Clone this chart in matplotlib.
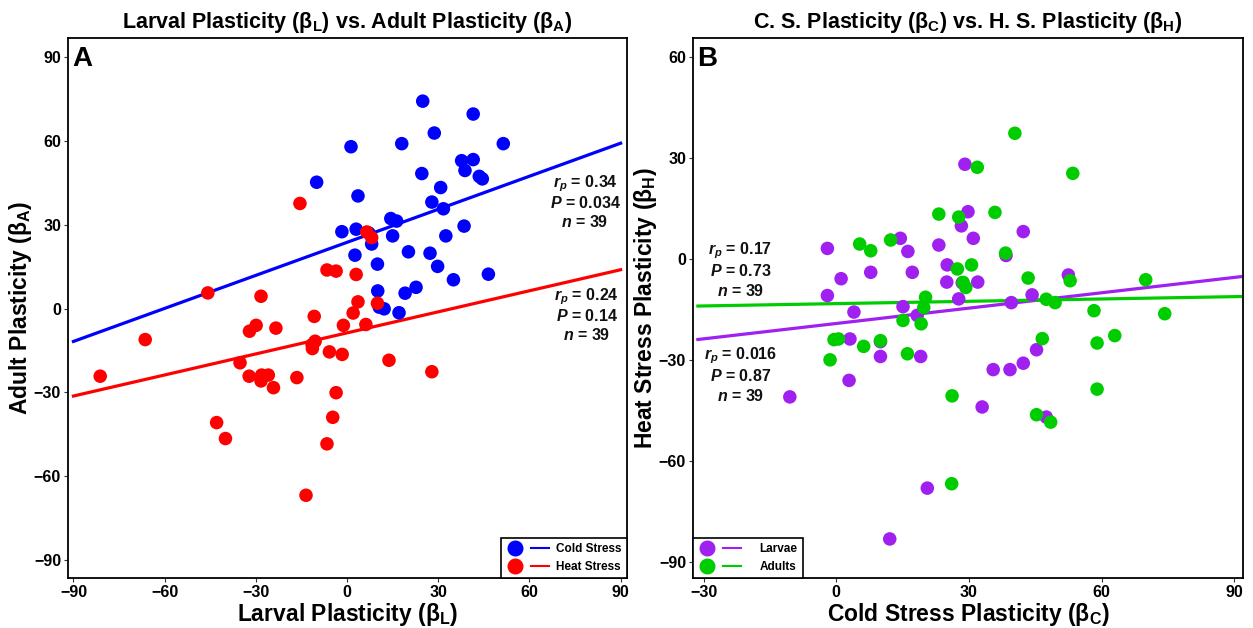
import matplotlib
matplotlib.use("Agg")
import matplotlib.pyplot as plt
from matplotlib.lines import Line2D
from matplotlib.legend_handler import HandlerTuple
import numpy as np

plt.rcParams['font.family'] = ['Liberation Sans', 'DejaVu Sans']
plt.rcParams['mathtext.fontset'] = 'custom'
plt.rcParams['mathtext.rm'] = 'Liberation Sans:bold'
plt.rcParams['mathtext.it'] = 'Liberation Sans:italic:bold'
plt.rcParams['mathtext.bf'] = 'Liberation Sans:bold'

# ---------------- Panel A data ----------------
cold_larval = [1.3, -10.0, 3.6, -1.7, 3.0, 2.6, 24.9, 41.5, 28.7, 18.0, 51.4, 37.7, 41.5,
               38.8, 24.6, 43.5, 44.5, 30.8, 27.9, 31.7, 14.4, 16.3, 38.5, 15.0, 32.5,
               8.1, 20.2, 27.3, 10.0, 29.8, 46.5, 35.0, 10.1, 22.7, 19.1, 12.2, 10.6, 17.1, 7.2]
cold_adult = [57.9, 45.2, 40.3, 27.5, 28.4, 19.1, 74.2, 69.6, 62.8, 59.0, 59.0, 52.9, 53.3,
              49.4, 48.3, 47.3, 46.4, 43.3, 38.1, 35.7, 32.2, 31.3, 29.5, 26.0, 26.0,
              23.1, 20.3, 19.8, 15.9, 15.1, 12.3, 10.3, 6.3, 7.6, 5.5, -0.1, 0.5, -1.5, 27.0]
heat_larval = [-15.5, -45.8, -28.3, -6.6, -3.6, 3.0, -10.8, 2.0, 3.6, -1.2, -32.1, -29.9, -23.4,
               -66.4, -81.2, -35.2, -32.2, -28.1, -25.9, -28.3, -24.2, -16.5, -11.5, -10.5,
               -11.4, -5.8, -1.6, -3.6, -4.7, -42.9, -40.0, -6.6, -13.5, 10.0, 6.2, 13.8, 27.9,
               6.5, 8.1]
heat_adult = [37.6, 5.6, 4.4, 13.8, 13.4, 12.2, -2.8, -1.6, 2.4, -6.0, -8.1, -6.0, -7.0,
              -11.1, -24.2, -19.4, -24.2, -23.8, -23.8, -25.9, -28.3, -24.7, -12.9, -11.7,
              -14.3, -15.5, -16.4, -30.1, -38.9, -40.8, -46.5, -48.4, -66.8, 1.9, -5.7, -18.5,
              -22.6, 27.4, 25.4]
fit_cold = (23.7, 0.394)   # intercept, slope
fit_heat = (-8.7, 0.251)
stats_cold = ("0.34", "0.034", "39")
stats_heat = ("0.24", "0.14", "39")
ticks_A = [-90, -60, -30, 0, 30, 60, 90]

# ---------------- Panel B data ----------------
larvae_cold = [29.1, 29.8, 28.3, 31.0, 14.5, -2.0, 16.2, 23.2, 7.8, 17.2, 1.1, 25.1, 25.0,
               -2.0, 27.7, 15.1, 4.0, 18.3, 3.1, 10.0, 10.0, 19.1, 2.9, -10.5, 42.3, 38.4,
               32.0, 52.5, 39.6, 44.3, 45.3, 42.3, 35.5, 39.3, 33.0, 47.5, 20.6, 12.1, 28.5]
larvae_heat = [28.2, 14.1, 9.9, 6.2, 6.2, 3.2, 2.3, 4.2, -3.9, -3.9, -5.8, -1.7, -6.8,
               -10.8, -11.8, -14.1, -15.7, -16.7, -23.7, -24.5, -28.9, -28.9, -36.0, -40.9,
               8.2, 1.1, -6.8, -4.7, -12.9, -10.6, -26.9, -30.9, -32.8, -32.8, -43.9, -46.9,
               -68.0, -83.1, -7.0]
adults_cold = [23.2, 27.7, 12.3, 5.3, 7.8, 30.6, 27.4, 28.7, 29.3, 20.2, 19.8, 15.1, 19.2,
               -0.5, 0.5, 10.0, 6.2, 16.1, -1.4, 26.2, 40.4, 31.9, 53.5, 35.9, 38.3, 43.4,
               52.9, 70.0, 47.5, 49.5, 58.3, 74.3, 63.0, 46.6, 59.0, 59.0, 45.3, 48.5, 26.1]
adults_heat = [13.4, 12.5, 5.7, 4.5, 2.5, -1.7, -2.9, -6.9, -8.4, -11.3, -14.4, -18.2, -19.2,
               -23.9, -23.7, -24.2, -25.9, -28.1, -29.9, -40.6, 37.4, 27.3, 25.5, 13.9, 1.8,
               -5.6, -6.4, -6.1, -11.9, -12.9, -15.3, -16.2, -22.7, -23.6, -24.9, -38.6,
               -46.2, -48.4, -66.7]
fit_larvae = (-19.1, 0.152)
fit_adults = (-13.2, 0.023)
stats_adults = ("0.17", "0.73", "39")
stats_larvae = ("0.016", "0.87", "39")
xticks_B = [-30, 0, 30, 60, 90]
yticks_B = [-90, -60, -30, 0, 30, 60]

BLUE, RED = '#0000FF', '#FF0000'
PURPLE, GREEN = '#A020F0', '#00CD00'
MS = 95
LW = 2.3

fig = plt.figure(figsize=(12.53, 6.28), dpi=100)
axA = fig.add_axes([68/1253, 1-578/628, 559/1253, 540/628])
axB = fig.add_axes([693/1253, 1-578/628, 550/1253, 540/628])


def style(ax):
    for s in ax.spines.values():
        s.set_color('black')
        s.set_linewidth(1.3)
    ax.tick_params(axis='both', length=3, width=0.8, color='#333333', pad=2,
                   labelsize=11.5, labelcolor='black')
    for lab in ax.get_xticklabels() + ax.get_yticklabels():
        lab.set_fontweight('bold')


def stat_text(ax, x, y, st, dy):
    r, p, n = st
    kw = dict(ha='center', va='center', fontsize=11.5, fontweight='bold', color='#111111')
    ax.text(x, y, r'$r_{p}$' + ' = ' + r, **kw)
    ax.text(x, y - dy, r'$P$' + ' = ' + p, **kw)
    ax.text(x, y - 2*dy, r'$n$' + ' = ' + n, **kw)


# ---------- Panel A ----------
xa = np.array([-90, 90])
axA.plot(xa, fit_cold[0] + fit_cold[1]*xa, color=BLUE, lw=LW, zorder=2)
axA.plot(xa, fit_heat[0] + fit_heat[1]*xa, color=RED, lw=LW, zorder=2)
axA.scatter(cold_larval, cold_adult, s=MS, color=BLUE, edgecolors='none', zorder=3)
axA.scatter(heat_larval, heat_adult, s=MS, color=RED, edgecolors='none', zorder=3)
axA.set_xlim(-91.8, 92.1)
axA.set_ylim(-96.4, 96.8)
axA.set_xticks(ticks_A)
axA.set_yticks(ticks_A)
axA.set_xticklabels([str(t).replace('-', '\u2212') for t in ticks_A])
axA.set_yticklabels([str(t).replace('-', '\u2212') for t in ticks_A])
style(axA)
axA.set_xlabel(r'Larval Plasticity ($\mathrm{β}_{\mathrm{L}}$)', fontsize=16.5, fontweight='bold', labelpad=1)
axA.set_ylabel(r'Adult Plasticity ($\mathrm{β}_{\mathrm{A}}$)', fontsize=16.5, fontweight='bold', labelpad=0)
axA.set_title(r'Larval Plasticity ($\mathrm{β}_{\mathrm{L}}$) vs. Adult Plasticity ($\mathrm{β}_{\mathrm{A}}$)',
              fontsize=15.5, fontweight='bold', pad=7)
axA.text(0.008, 0.985, 'A', transform=axA.transAxes, ha='left', va='top', fontsize=20, fontweight='bold')
stat_text(axA, 78.3, 44.7, stats_cold, 6.8)
stat_text(axA, 78.8, 4.2, stats_heat, 6.9)

hA = [(Line2D([], [], marker='o', ls='none', color=BLUE, ms=10.5), Line2D([], [], color=BLUE, lw=1.5)),
      (Line2D([], [], marker='o', ls='none', color=RED, ms=10.5), Line2D([], [], color=RED, lw=1.5))]
legA = axA.legend(hA, ['Cold Stress', 'Heat Stress'], loc='lower right', borderaxespad=0,
                  handler_map={tuple: HandlerTuple(ndivide=None, pad=0.6)}, handlelength=3.6,
                  fancybox=False, edgecolor='black', framealpha=1, prop={'weight': 'bold', 'size': 8.5},
                  labelspacing=0.45, handletextpad=0.6, borderpad=0.45)
legA.get_frame().set_linewidth(1.2)

# ---------- Panel B ----------
xb = np.array([-31.3, 91.5])
axB.plot(xb, fit_larvae[0] + fit_larvae[1]*xb, color=PURPLE, lw=LW, zorder=2)
axB.plot(xb, fit_adults[0] + fit_adults[1]*xb, color=GREEN, lw=LW, zorder=2)
axB.scatter(larvae_cold, larvae_heat, s=MS, color=PURPLE, edgecolors='none', zorder=3)
axB.scatter(adults_cold, adults_heat, s=MS, color=GREEN, edgecolors='none', zorder=3)
axB.set_xlim(-32.4, 92.0)
axB.set_ylim(-94.7, 65.7)
axB.set_xticks(xticks_B)
axB.set_yticks(yticks_B)
axB.set_xticklabels([str(t).replace('-', '\u2212') for t in xticks_B])
axB.set_yticklabels([str(t).replace('-', '\u2212') for t in yticks_B])
style(axB)
axB.set_xlabel(r'Cold Stress Plasticity ($\mathrm{β}_{\mathrm{C}}$)', fontsize=16.5, fontweight='bold', labelpad=1)
axB.set_ylabel(r'Heat Stress Plasticity ($\mathrm{β}_{\mathrm{H}}$)', fontsize=16.5, fontweight='bold', labelpad=0)
axB.set_title(r'C. S. Plasticity ($\mathrm{β}_{\mathrm{C}}$) vs. H. S. Plasticity ($\mathrm{β}_{\mathrm{H}}$)',
              fontsize=15.5, fontweight='bold', pad=7)
axB.text(0.008, 0.985, 'B', transform=axB.transAxes, ha='left', va='top', fontsize=20, fontweight='bold')
stat_text(axB, -21.7, 2.6, stats_adults, 6.0)
stat_text(axB, -21.7, -28.7, stats_larvae, 5.9)

hB = [(Line2D([], [], marker='o', ls='none', color=PURPLE, ms=10.5), Line2D([], [], color=PURPLE, lw=1.5)),
      (Line2D([], [], marker='o', ls='none', color=GREEN, ms=10.5), Line2D([], [], color=GREEN, lw=1.5))]
legB = axB.legend(hB, ['Larvae', 'Adults'], loc='lower left', borderaxespad=0,
                  handler_map={tuple: HandlerTuple(ndivide=None, pad=0.6)}, handlelength=3.6,
                  fancybox=False, edgecolor='black', framealpha=1, prop={'weight': 'bold', 'size': 8.5},
                  labelspacing=0.45, handletextpad=1.6, borderpad=0.45)
legB.get_frame().set_linewidth(1.2)

fig.savefig('out.png', dpi=100)
